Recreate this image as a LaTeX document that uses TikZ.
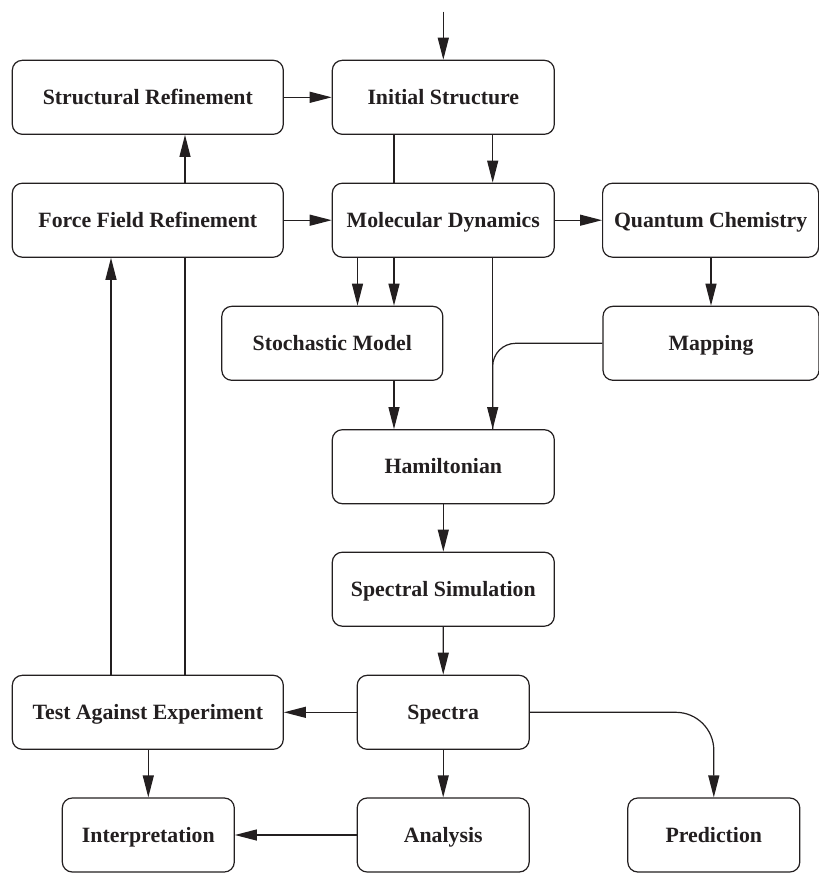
\documentclass[tikz,border=0pt]{standalone}
\usepackage{fontspec}
\setmainfont{Liberation Serif}
\usetikzlibrary{arrows.meta}
\definecolor{ink}{HTML}{231F20}
\begin{document}
\begin{tikzpicture}[x=1pt,y=-1pt,
  box/.style={draw=ink, line width=1.2pt, rounded corners=10pt, fill=white, inner sep=0pt,
    minimum height=74pt, font=\fontsize{21.8}{26}\selectfont\bfseries, text=ink,
    text height=14.4pt, text depth=0pt, align=center},
  wide/.style={minimum width=271pt},
  mid/.style={minimum width=222pt},
  side/.style={minimum width=216pt},
  small/.style={minimum width=172pt},
  conn/.style={draw=ink, line width=1.2pt},
  arr/.style={conn, -{Triangle[length=22pt,width=11pt]}},
]
\useasboundingbox (0,0) rectangle (819,873);

% nodes
\node[box, wide]  (sr)   at (147.8,97.3)  {Structural Refinement};
\node[box, mid]   (is)   at (443.3,97.3)  {Initial Structure};
\node[box, wide]  (ffr)  at (147.8,220.2) {Force Field Refinement};
\node[box, mid]   (md)   at (443.3,220.2) {Molecular Dynamics};
\node[box, side]  (qc)   at (710.6,220.2) {Quantum Chemistry};
\node[box, minimum width=221pt] (sm) at (332.3,343.3) {Stochastic Model};
\node[box, side]  (map)  at (711.0,343.3) {Mapping};
\node[box, mid]   (ham)  at (443.3,466.7) {Hamiltonian};
\node[box, mid]   (ss)   at (443.3,589.2) {Spectral Simulation};
\node[box, wide]  (tae)  at (147.8,712.3) {Test Against Experiment};
\node[box, small] (spec) at (443.2,712.3) {Spectra};
\node[box, small] (intp) at (148.3,835.0) {Interpretation};
\node[box, small] (ana)  at (443.2,835.0) {Analysis};
\node[box, small] (pred) at (713.8,835.0) {Prediction};

% column helpers
\coordinate (top)  at (443.3,11.7);
\coordinate (c111) at (111,0);
\coordinate (c185) at (185,0);
\coordinate (c357) at (357.5,0);
\coordinate (c394) at (394,0);
\coordinate (c492) at (492.7,0);

% connectors
\draw[arr] (top) -- (is.north);
\draw[arr] (sr) -- (is);
\draw[arr] (ffr.north -| c185) -- (sr.south -| c185);
\draw[arr] (ffr) -- (md);
\draw[arr] (is.south -| c492) -- (md.north -| c492);
\draw[conn] (is.south -| c394) -- (md.north -| c394);
\draw[arr] (md.south -| c394) -- (sm.north -| c394);
\draw[arr] (md.south -| c357) -- (sm.north -| c357);
\draw[arr] (md) -- (qc);
\draw[arr] (qc.south -| map.north) -- (map.north);
\draw[arr] (md.south -| c492) -- (ham.north -| c492);
\draw[conn, rounded corners=23pt] (map.west) -| (ham.north -| c492);
\draw[arr] (sm.south -| c394) -- (ham.north -| c394);
\draw[arr] (ham) -- (ss);
\draw[arr] (ss) -- (spec);
\draw[arr] (spec) -- (tae);
\draw[arr] (tae.north -| c111) -- (ffr.south -| c111);
\draw[conn] (tae.north -| c185) -- (ffr.south -| c185);
\draw[arr] (tae.south -| intp.north) -- (intp.north);
\draw[arr] (spec) -- (ana);
\draw[arr] (ana) -- (intp);
\draw[arr, rounded corners=38pt] (spec.east) -| (pred.north);
\end{tikzpicture}
\end{document}
